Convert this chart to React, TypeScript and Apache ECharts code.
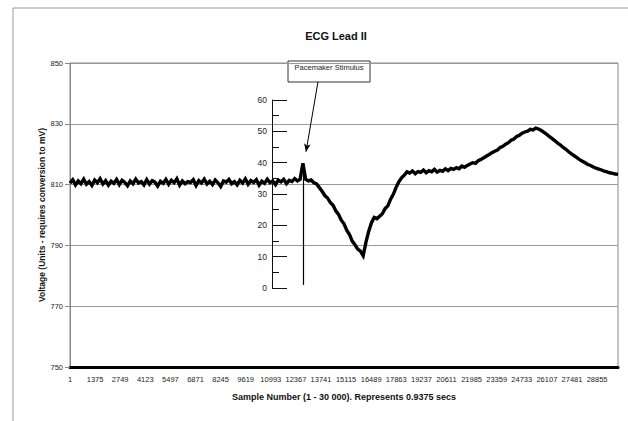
import React, { useEffect, useRef } from "react";
import * as echarts from "echarts";

// Sample step between stored voltage readings (samples)
const sampleStep = 150;

// ECG Lead II voltage readings (units), one every 150 samples, 0 .. 30000
const voltage: number[] = [
  810.5, 811.6, 809.9, 811.2, 810.3, 811.8, 810.1, 811.0, 809.7, 811.5,
  810.6, 811.9, 810.2, 811.3, 809.8, 811.1, 810.4, 811.7, 810.0, 811.4,
  810.7, 809.6, 811.2, 810.3, 811.8, 810.5, 811.0, 809.9, 811.6, 810.2,
  811.3, 810.8, 809.5, 811.1, 810.4, 811.7, 810.1, 811.4, 810.6, 811.9,
  809.8, 811.2, 810.3, 811.0, 810.7, 811.6, 809.7, 811.3, 810.5, 811.8,
  810.2, 811.1, 810.0, 811.5, 810.6, 809.4, 811.2, 810.8, 811.7, 810.3,
  811.0, 809.9, 811.4, 810.5, 811.9, 810.1, 811.3, 810.7, 811.6, 809.8,
  811.1, 810.4, 811.8, 810.6, 811.2, 810.0, 811.5, 810.9, 811.7, 810.3,
  811.4, 811.0, 812.0, 811.2, 811.8,
  817.0,
  811.8, 811.2, 811.5, 810.6,
  810.2, 809.0, 807.8, 806.4, 805.6, 804.1, 803.2, 801.4, 800.2, 798.3,
  797.1, 795.0, 793.6, 791.4, 790.2, 788.8, 788.1, 786.6, 791.0, 794.6,
  797.4, 799.2, 798.8, 799.6, 800.4, 802.1, 803.0, 805.2, 806.8, 809.1,
  810.9, 812.2, 813.1, 814.2, 813.8, 814.5, 813.6, 814.3, 814.0, 814.8,
  813.9, 814.6, 814.2, 815.0, 814.1, 814.7, 814.4, 815.2, 814.6, 815.3,
  815.0, 815.6, 815.2, 816.1, 815.7, 816.3, 816.8, 817.2, 817.0, 817.9,
  818.3, 818.8, 819.4, 819.9, 820.5, 821.0, 821.4, 822.2, 822.6, 823.3,
  823.8, 824.6, 825.0, 825.8, 826.2, 826.9, 827.3, 827.6, 828.2, 828.0,
  828.6, 828.3, 827.8, 827.2, 826.5, 825.8, 825.1, 824.4, 823.6, 823.0,
  822.2, 821.6, 820.8, 820.1, 819.5, 818.9, 818.2, 817.7, 817.2, 816.6,
  816.3, 815.8, 815.4, 815.1, 814.8, 814.4, 814.2, 813.9, 813.7, 813.5,
  813.4,
];

// X axis: label step (samples) and range
const xTickStep = 1374;
const xRange = [0, 30000];
// Y axis (voltage units)
const yRange = [750, 850];
const yStep = 20;
// Inner ruler scale
const rulerRange = [0, 60];
const rulerStep = 10;

// Pacemaker stimulus marker: sample, line bottom/top voltage
const stimulusSample = 12750;
const stimulusLine = [777, 817];
// Arrow from the callout box to the spike: [sample, voltage]
const arrowFrom = [13576, 843.8];
const arrowTo = [12919, 820.8];

const titleText = "ECG Lead II";
const xName = "Sample Number (1 - 30 000). Represents 0.9375 secs";
const yName = "Voltage (Units - requires conversion to mV)";
const calloutText = "Pacemaker Stimulus";

export default function App() {
  const ref = useRef<HTMLDivElement>(null);
  useEffect(() => {
    if (!ref.current) return;
    const chart = echarts.init(ref.current, null, { renderer: "svg" });
    const font = "'Liberation Sans', Arial, sans-serif";
    const data = voltage.map((v, i) => [i * sampleStep, v]);
    chart.setOption({
      animation: false,
      backgroundColor: "#fff",
      textStyle: { fontFamily: font },
      title: {
        text: titleText,
        left: 331,
        top: 25,
        textAlign: "center",
        textStyle: { fontSize: 11, fontWeight: "bold", color: "#111", fontFamily: font },
      },
      grid: [
        {
          left: 70, top: 63, right: 10, bottom: 54,
          show: true, borderColor: "#888", borderWidth: 1,
          outerBoundsMode: "none",
        },
        { left: 272, top: 100, width: 1, height: 188, outerBoundsMode: "none" },
      ],
      xAxis: [
        {
          type: "value", gridIndex: 0,
          min: xRange[0], max: xRange[1], interval: xTickStep,
          axisLine: { show: true, lineStyle: { color: "#000", width: 3 } },
          axisTick: { show: false },
          splitLine: { show: false },
          axisLabel: {
            fontSize: 7.5, color: "#222", margin: 8, showMaxLabel: false,
            formatter: (v: number) => String(v + 1),
          },
          name: xName, nameLocation: "middle", nameGap: 25, nameMoveOverlap: false,
          nameTextStyle: { fontSize: 9, fontWeight: "bold", color: "#111" },
        },
        { type: "value", gridIndex: 1, min: 0, max: 1, show: false },
      ],
      yAxis: [
        {
          type: "value", gridIndex: 0,
          min: yRange[0], max: yRange[1], interval: yStep,
          axisLine: { show: true, lineStyle: { color: "#888" } },
          axisTick: { show: true, length: 5, lineStyle: { color: "#888" } },
          splitLine: { show: true, lineStyle: { color: "#999", width: 1 } },
          axisLabel: { fontSize: 7.5, color: "#222", margin: 7 },
          name: yName, nameLocation: "middle", nameGap: 24, nameMoveOverlap: false,
          nameTextStyle: { fontSize: 8.5, fontWeight: "bold", color: "#111" },
        },
        {
          type: "value", gridIndex: 1,
          min: rulerRange[0], max: rulerRange[1], interval: rulerStep,
          axisLine: { show: true, lineStyle: { color: "#111", width: 1 } },
          axisTick: { show: true, inside: true, length: 15, lineStyle: { color: "#111" } },
          minorTick: { show: true, splitNumber: 2, length: 7, lineStyle: { color: "#111" } },
          splitLine: { show: false },
          axisLabel: { fontSize: 8.5, color: "#222", margin: 5 },
        },
        {
          type: "value", gridIndex: 1,
          min: rulerRange[0], max: rulerRange[1], interval: rulerStep,
          axisLine: { show: false },
          axisTick: { show: false },
          minorTick: { show: true, splitNumber: 2, length: 5, lineStyle: { color: "#111" } },
          splitLine: { show: false },
          axisLabel: { show: false },
        },
      ],
      series: [
        {
          type: "line",
          xAxisIndex: 0, yAxisIndex: 0,
          data,
          showSymbol: false,
          lineStyle: { color: "#000", width: 3.4, join: "miter" },
          z: 3,
          markLine: {
            silent: true,
            label: { show: false },
            data: [
              [
                { coord: [stimulusSample, stimulusLine[0]], symbol: "none", lineStyle: { color: "#000", width: 1.2, type: "solid" } },
                { coord: [stimulusSample, stimulusLine[1]], symbol: "none" },
              ],
              [
                { coord: arrowFrom, symbol: "none", lineStyle: { color: "#000", width: 1, type: "solid" } },
                { coord: arrowTo, symbol: "arrow", symbolSize: [5, 8] },
              ],
            ],
          },
        },
      ],
      graphic: [
        {
          type: "rect", z: -10, silent: true,
          shape: { x: 13, y: 8, width: 700, height: 500 },
          style: { fill: "none", stroke: "#999", lineWidth: 1 },
        },
        {
          type: "group", z: 100,
          children: [
            {
              type: "rect",
              shape: { x: 288, y: 61, width: 82, height: 21 },
              style: { fill: "#fff", stroke: "#333", lineWidth: 1 },
            },
            {
              type: "text",
              x: 329, y: 67,
              style: {
                text: calloutText, fontSize: 7.5, fontFamily: font, fill: "#222",
                align: "center", verticalAlign: "middle",
              },
            },
          ],
        },
      ],
    });
    return () => chart.dispose();
  }, []);
  return (
    <div
      ref={ref}
      style={{ position: "fixed", left: 0, top: 0, width: 628, height: 421 }}
    />
  );
}
